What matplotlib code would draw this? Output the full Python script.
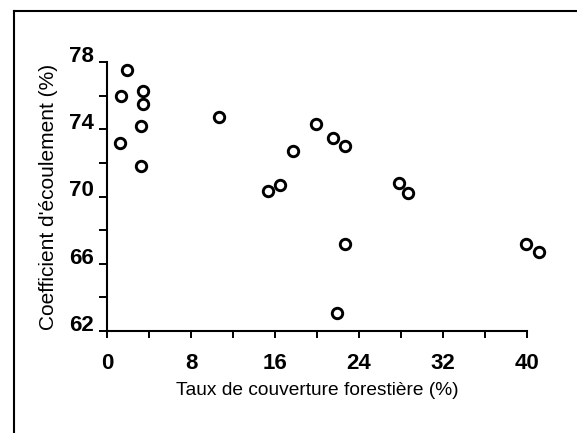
import matplotlib
matplotlib.use("Agg")
import matplotlib.pyplot as plt
from matplotlib.lines import Line2D

# Taux de couverture forestière (%) et coefficient d'écoulement (%)
couverture = [1.9, 1.3, 3.4, 3.4, 3.2, 1.2, 3.2, 10.7, 17.7, 15.3, 16.5,
              19.9, 21.5, 22.7, 27.8, 28.7, 22.7, 21.9, 39.9, 41.1]
ecoulement = [77.5, 76.0, 76.3, 75.5, 74.2, 73.2, 71.8, 74.7, 72.7, 70.3, 70.7,
              74.3, 73.5, 73.0, 70.8, 70.2, 67.2, 63.1, 67.2, 66.7]

x_ticks = [0, 8, 16, 24, 32, 40]
y_ticks = [62, 66, 70, 74, 78]

plt.rcParams['font.family'] = ['Liberation Sans', 'DejaVu Sans']

fig = plt.figure(figsize=(5.77, 4.33), dpi=100)
ax = fig.add_axes([107 / 577, 102 / 433, 441 / 577, 269 / 433])

ax.plot(couverture, ecoulement, linestyle='none', marker='o', ms=7.5,
        mfc='white', mec='black', mew=2.1, clip_on=False)

ax.set_xlim(0, 42)
ax.set_ylim(62, 78)
ax.set_xticks(x_ticks)
ax.set_yticks(y_ticks)
ax.set_xticks(range(4, 40, 8), minor=True)
ax.set_yticks(range(64, 78, 4), minor=True)

for s in ['top', 'right']:
    ax.spines[s].set_visible(False)
ax.spines['left'].set_bounds(62, 78)
ax.spines['bottom'].set_bounds(0, 40)
for s in ['left', 'bottom']:
    ax.spines[s].set_linewidth(1.5)

ax.tick_params(axis='y', which='both', direction='out', length=6, width=1.4, pad=3.5)
ax.tick_params(axis='x', which='both', direction='out', length=5, width=1.4, pad=11)
for lab in ax.get_xticklabels() + ax.get_yticklabels():
    lab.set_fontsize(16)
    lab.set_fontweight('bold')
for lab in ax.get_yticklabels():
    lab.set_va('baseline')

ax.set_xlabel('Taux de couverture forestière (%)', fontsize=13.8)
ax.xaxis.set_label_coords(20 / 42, -0.19)
ax.set_ylabel("Coefficient d'écoulement (%)", fontsize=15)
ax.yaxis.set_label_coords(-0.111, 0.5)

# cadre de la figure scannée
fig.add_artist(Line2D([14 / 577, 14 / 577], [0, 1 - 11 / 433], color='black', lw=1.5))
fig.add_artist(Line2D([14 / 577, 1], [1 - 11 / 433, 1 - 11 / 433], color='black', lw=1.5))

fig.savefig('out.png', dpi=100)
